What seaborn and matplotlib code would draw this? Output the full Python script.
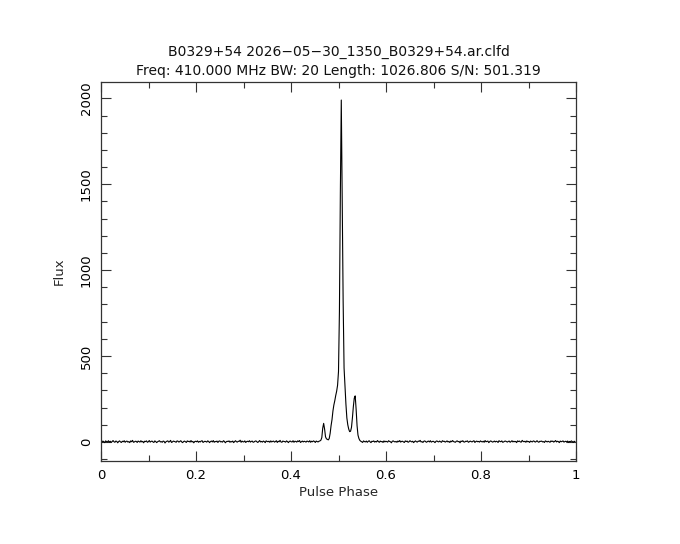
import numpy as np
import pandas as pd
import matplotlib
matplotlib.use("Agg")
import matplotlib.pyplot as plt
import seaborn as sns
from matplotlib.ticker import MultipleLocator

# off-pulse baseline, bins 0..235
noise_left = [
    3, -2, 5, 1, -4, 6, 2, 0, 7, -1, 4, -3, 2, 8, 1, -2, 5, 3, -5, 2,
    6, 0, -3, 4, 1, 7, -2, 3, 5, -1, 2, -4, 6, 1, 9, -2, 0, 4, 3, -3,
    5, 2, -1, 7, 0, 3, -5, 4, 2, 6, -2, 1, 8, -1, 3, 5, 0, -3, 6, 2,
    -4, 1, 4, 7, 0, 2, -2, 5, 3, -6, 1, 4, 6, -1, 2, 9, -3, 0, 5, 3,
    1, -2, 6, 4, -1, 3, 7, 0, -4, 2, 5, 1, -3, 6, 2, 4, -1, 8, 0, 3,
    -5, 2, 4, 1, 6, -2, 3, 0, 5, 7, -3, 1, 4, 2, -1, 6, 3, -4, 2, 5,
    0, 8, -2, 3, 1, 5, -3, 4, 6, 0, 2, -1, 7, 3, -5, 1, 4, 2, 6, -2,
    3, 0, 5, -4, 2, 7, 1, -1, 4, 3, 10, -2, 5, 1, 0, 6, -3, 2, 4, 1,
    7, -1, 3, 5, -2, 0, 4, 6, 1, -3, 2, 8, 0, 3, -1, 5, 2, -4, 6, 3,
    1, 4, -2, 6, 0, 3, 5, -1, 2, 7, -3, 4, 1, 9, 0, -2, 5, 3, 2, -1,
    6, 2, -4, 3, 5, 1, 0, 7, -2, 4, 3, -1, 6, 2, 8, -3, 1, 5, 0, 4,
    2, -1, 5, 3, 0, 7, -2, 4, 1, 6, 3, -3, 5, 2, 0, 4,
]

# on-pulse region, bins 236..279
pulse = [
    6, 10, 25, 80, 108, 75, 30, 18, 15, 12,
    20, 50, 95, 130, 180, 215, 240, 270, 295, 330,
    410, 760, 1450, 1990, 1420, 820, 430, 320, 220, 140,
    100, 75, 60, 62, 85, 140, 205, 255, 268, 190,
    95, 40, 20, 9,
]

# off-pulse baseline, bins 280..511
noise_right = [
    4, 1, -3, 6, 2, 0, 5, -2, 3, 7, 1, -4, 4, 2, 6, -1, 3, 0, 8, 2,
    -2, 5, 1, 3, -3, 6, 0, 4, 2, -1, 7, 3, 1, -5, 4, 6, 2, 0, 3, -2,
    5, 1, 8, -1, 3, 4, 0, -3, 6, 2, 5, -2, 1, 7, 3, 0, 4, -4, 2, 6,
    1, -1, 5, 3, 9, 0, 2, -3, 4, 6, 1, -2, 3, 5, 0, 7, -1, 2, 4, 1,
    -4, 3, 6, 2, 0, 5, 1, -2, 7, 3, 4, -1, 2, 6, 0, 3, -3, 5, 1, 8,
    2, 0, -2, 4, 6, 1, 3, -5, 5, 2, 7, 0, -1, 4, 3, 6, -2, 1, 5, 2,
    0, 4, 7, -3, 2, 5, 1, 3, -1, 6, 2, 0, 4, -2, 8, 1, 3, 5, -4, 2,
    6, 3, -1, 1, 5, 0, 4, 2, -3, 7, 3, 1, 6, -2, 0, 4, 5, 2, -1, 3,
    5, -2, 2, 7, 0, 4, 1, 3, -4, 6, 2, 5, 0, -1, 9, 3, 1, 4, -2, 6,
    1, 3, -3, 5, 2, 0, 6, 4, -1, 2, 7, 1, -2, 4, 3, 5, 0, 2, -3, 6,
    3, 0, 4, 1, -2, 6, 2, 5, -1, 3, 8, 0, 4, 2, -4, 5, 1, 3, 6, -1,
    2, 4, 0, 5, -2, 3, 1, 6, 2, -3, 4, 1,
]

title = ("B0329+54 2026\u221205\u221230_1350_B0329+54.ar.clfd\n"
         "Freq: 410.000 MHz BW: 20 Length: 1026.806 S/N: 501.319")

flux = noise_left + pulse + noise_right
nbin = len(flux)
df = pd.DataFrame({"phase": np.arange(nbin) / nbin, "flux": flux})

sns.set_style("ticks")
plt.rcParams['font.family'] = ['DejaVu Sans']

fig = plt.figure(figsize=(6.8, 5.44), dpi=100)
ax = fig.add_axes([101 / 680, 1 - 461 / 544, 475 / 680, 379 / 544])

sns.lineplot(data=df, x="phase", y="flux", ax=ax, color="black", linewidth=0.8)


def phase_fmt(v, p):
    v = round(v, 3)
    if v == 0 or v == 1:
        return f"{int(v)}"
    return f"{v:.1f}"


ax.set_xlim(0, 1)
ax.set_ylim(-111, 2095)
ax.xaxis.set_major_locator(MultipleLocator(0.2))
ax.xaxis.set_minor_locator(MultipleLocator(0.1))
ax.yaxis.set_major_locator(MultipleLocator(500))
ax.yaxis.set_minor_locator(MultipleLocator(100))
ax.xaxis.set_major_formatter(phase_fmt)

ax.tick_params(which="both", direction="in", top=True, right=True,
               colors="#333333", labelcolor="black", labelsize=9.5, width=0.8)
ax.tick_params(which="major", length=7)
ax.tick_params(axis="x", which="major", pad=6)
ax.tick_params(axis="y", which="major", pad=6)
ax.tick_params(which="minor", length=4)
for lab in ax.get_yticklabels():
    lab.set_rotation(90)
    lab.set_va("center")
for s in ax.spines.values():
    s.set_color("#333333")
    s.set_linewidth(0.9)

ax.set_xlabel("Pulse Phase", fontsize=9.5, labelpad=3)
ax.set_ylabel("Flux", fontsize=9.5, labelpad=10)
ax.set_title(title, fontsize=10, linespacing=1.45, pad=5, color="#111111")

fig.savefig("out.png", dpi=100)
